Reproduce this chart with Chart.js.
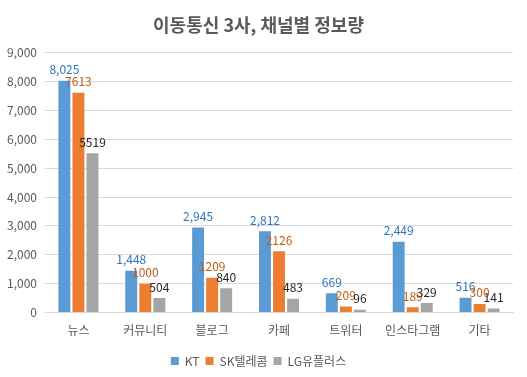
<!DOCTYPE html>
<html>
<head>
<meta charset="utf-8">
<script src="https://cdn.jsdelivr.net/npm/chart.js@4/dist/chart.umd.min.js"></script>
<style>
  html, body { margin: 0; padding: 0; background: #fff; }
  #wrap { width: 527px; height: 377px; }
</style>
</head>
<body>
<div id="wrap"><canvas id="chart" width="527" height="377"></canvas></div>
<script>
const categories = ['뉴스', '커뮤니티', '블로그', '카페', '트위터', '인스타그램', '기타'];
const seriesNames = ['KT', 'SK텔레콤', 'LG유플러스'];
const kt = [8025, 1448, 2945, 2812, 669, 2449, 516];
const skt = [7613, 1000, 1209, 2126, 209, 189, 300];
const lgu = [5519, 504, 840, 483, 96, 329, 141];
const yTicks = [0, 1000, 2000, 3000, 4000, 5000, 6000, 7000, 8000, 9000];

const FONT = "'Noto Sans CJK KR', 'Noto Sans', sans-serif";

// labels above each bar, like the spreadsheet original
const barLabels = {
  id: 'barLabels',
  afterDatasetsDraw(chart) {
    const ctx = chart.ctx;
    ctx.save();
    ctx.font = '12px ' + FONT;
    ctx.textAlign = 'center';
    ctx.textBaseline = 'bottom';
    chart.data.datasets.forEach(function (ds, i) {
      const meta = chart.getDatasetMeta(i);
      meta.data.forEach(function (bar, j) {
        const v = ds.data[j];
        ctx.fillStyle = ds.labelColor;
        const txt = ds.commas ? v.toLocaleString('en-US') : String(v);
        ctx.fillText(txt, bar.x, bar.y - 5);
      });
    });
    ctx.restore();
  }
};

new Chart(document.getElementById('chart'), {
  type: 'bar',
  data: {
    labels: categories,
    datasets: [
      { label: seriesNames[0], data: kt, backgroundColor: '#5B9BD5', labelColor: '#2E75B6', commas: true },
      { label: seriesNames[1], data: skt, backgroundColor: '#ED7D31', labelColor: '#C55A11', commas: false },
      { label: seriesNames[2], data: lgu, backgroundColor: '#A5A5A5', labelColor: '#262626', commas: false }
    ]
  },
  options: {
    responsive: false,
    animation: false,
    layout: { padding: { left: 4, right: 14, top: 2, bottom: 0 } },
    datasets: { bar: { categoryPercentage: 0.63, barPercentage: 0.85 } },
    plugins: {
      title: {
        display: true,
        text: '이동통신 3사, 채널별 정보량',
        color: '#595959',
        font: { family: FONT, size: 18, weight: 'bold' },
        padding: { top: 12, bottom: 17 }
      },
      legend: {
        position: 'bottom',
        labels: {
          color: '#595959',
          font: { family: FONT, size: 12 },
          boxWidth: 8,
          boxHeight: 8,
          padding: 6
        }
      },
      tooltip: { enabled: false }
    },
    scales: {
      x: {
        grid: { display: false, drawTicks: false },
        border: { color: '#D9D9D9' },
        ticks: { color: '#595959', font: { family: FONT, size: 12 }, padding: 11 }
      },
      y: {
        min: 0,
        max: 9000,
        afterBuildTicks(scale) { scale.ticks = yTicks.map(v => ({ value: v })); },
        afterFit(scale) { scale.width = 41; },
        grid: { color: '#D9D9D9', drawTicks: false },
        border: { display: false },
        ticks: {
          color: '#595959',
          font: { family: FONT, size: 12 },
          padding: 8,
          callback: v => v.toLocaleString('en-US')
        }
      }
    }
  },
  plugins: [barLabels]
});
</script>
</body>
</html>
